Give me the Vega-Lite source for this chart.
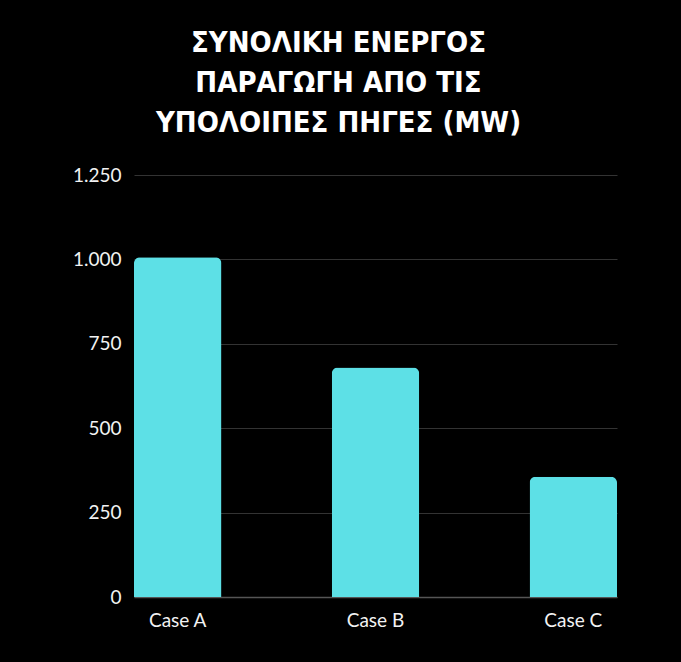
{
  "$schema": "https://vega.github.io/schema/vega-lite/v6.json",
  "width": 483,
  "height": 422,
  "autosize": {"type": "none"},
  "padding": {"left": 134, "top": 175, "right": 64, "bottom": 65},
  "background": "#000000",
  "title": {
    "text": ["ΣΥΝΟΛΙΚΗ ΕΝΕΡΓΟΣ", "ΠΑΡΑΓΩΓΗ ΑΠΟ ΤΙΣ", "ΥΠΟΛΟΙΠΕΣ ΠΗΓΕΣ (MW)"],
    "font": "DejaVu Sans Condensed, Liberation Sans Narrow, DejaVu Sans",
    "fontSize": 29,
    "fontWeight": "bold",
    "color": "#ffffff",
    "lineHeight": 40,
    "anchor": "middle",
    "frame": "group",
    "dx": -37,
    "offset": 28
  },
  "data": {
    "values": [
      {"case": "Case A", "mw": 1006},
      {"case": "Case B", "mw": 680},
      {"case": "Case C", "mw": 356}
    ]
  },
  "mark": {
    "type": "bar",
    "color": "#5de0e6",
    "cornerRadiusTopLeft": 6,
    "cornerRadiusTopRight": 6
  },
  "encoding": {
    "x": {
      "field": "case",
      "type": "nominal",
      "sort": null,
      "scale": {"paddingInner": 0.558, "paddingOuter": 0},
      "axis": {
        "title": null,
        "labelAngle": 0,
        "labelFont": "Lato",
        "labelFontSize": 19,
        "labelColor": "#f2f2f2",
        "labelPadding": 14,
        "ticks": false,
        "domain": true,
        "domainColor": "#555555",
        "domainWidth": 1.5
      }
    },
    "y": {
      "field": "mw",
      "type": "quantitative",
      "scale": {"domain": [0, 1250], "nice": false},
      "axis": {
        "title": null,
        "values": [0, 250, 500, 750, 1000, 1250],
        "labelExpr": "replace(format(datum.value, ','), ',', '.')",
        "labelFont": "Lato",
        "labelFontSize": 19,
        "labelColor": "#f2f2f2",
        "labelPadding": 13,
        "ticks": false,
        "domain": false,
        "grid": true,
        "gridColor": "#333333",
        "gridWidth": 1
      }
    }
  },
  "config": {
    "view": {"stroke": null}
  }
}
